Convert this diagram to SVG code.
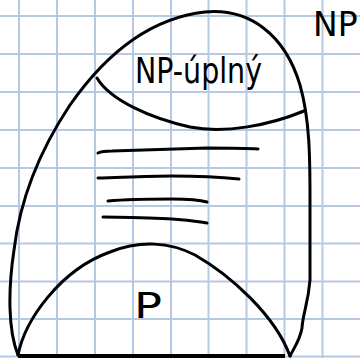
<svg xmlns="http://www.w3.org/2000/svg" width="360" height="358" viewBox="0 0 360 358">
<style>
.grid line{stroke:#b7c9e2;stroke-width:2}
.ink{fill:none;stroke:#000;stroke-width:3;stroke-linecap:round;stroke-linejoin:round}
.hw{font-family:"DejaVu Sans",sans-serif;fill:#000}
</style>
<rect width="360" height="358" fill="#fff"/>
<g class="grid">
<line x1="19" y1="0" x2="19" y2="358"/>
<line x1="57" y1="0" x2="57" y2="358"/>
<line x1="95" y1="0" x2="95" y2="358"/>
<line x1="133" y1="0" x2="133" y2="358"/>
<line x1="171" y1="0" x2="171" y2="358"/>
<line x1="208.5" y1="0" x2="208.5" y2="358"/>
<line x1="246.5" y1="0" x2="246.5" y2="358"/>
<line x1="284.5" y1="0" x2="284.5" y2="358"/>
<line x1="322.5" y1="0" x2="322.5" y2="358"/>
<line x1="0" y1="16" x2="360" y2="16"/>
<line x1="0" y1="54" x2="360" y2="54"/>
<line x1="0" y1="92" x2="360" y2="92"/>
<line x1="0" y1="130" x2="360" y2="130"/>
<line x1="0" y1="168" x2="360" y2="168"/>
<line x1="0" y1="206" x2="360" y2="206"/>
<line x1="0" y1="243.5" x2="360" y2="243.5"/>
<line x1="0" y1="281.5" x2="360" y2="281.5"/>
<line x1="0" y1="319" x2="360" y2="319"/>
<line x1="0" y1="356.5" x2="360" y2="356.5"/>
</g>
<g id="NP">
<path class="ink" d="M18,355 C8,330 8,290 14,250 C20,200 40,150 70,105 C105,55 150,18 205,12 C250,8 285,35 300,85 C310,120 310,160 310,200 L310,280 C308,305 303,312 302,328 C300,340 294,348 290,356"/>
<text class="hw" x="313" y="36" font-size="33">NP</text>
</g>
<g id="NP-complete">
<path class="ink" d="M97,78 C110,100 150,118 190,127 C225,134 270,125 304,111"/>
<text class="hw" x="135" y="83" font-size="36" textLength="127" lengthAdjust="spacingAndGlyphs">NP-úplný</text>
</g>
<g id="middle">
<path class="ink" d="M98,153 C102,151 106,151 112,151 L207,148 C230,148 245,148 258,149"/>
<path class="ink" d="M98,178 C130,177 150,176 172,176 C200,176 220,177 239,179"/>
<path class="ink" d="M108,201 C130,199 150,199 172,199 C190,199 200,200 207,202"/>
<path class="ink" d="M103,217 C130,217 150,218 172,219 C190,220 200,222 207,223"/>
</g>
<g id="P">
<path class="ink" d="M18,355 C25,320 60,270 110,252 C140,240 170,242 195,255 C230,275 275,315 290,356"/>
<text class="hw" x="134" y="318" font-size="36" textLength="28" lengthAdjust="spacingAndGlyphs">P</text>
</g>
<g id="base">
<line x1="18" y1="356" x2="285" y2="356" stroke="#000" stroke-width="4"/>
</g>
</svg>
